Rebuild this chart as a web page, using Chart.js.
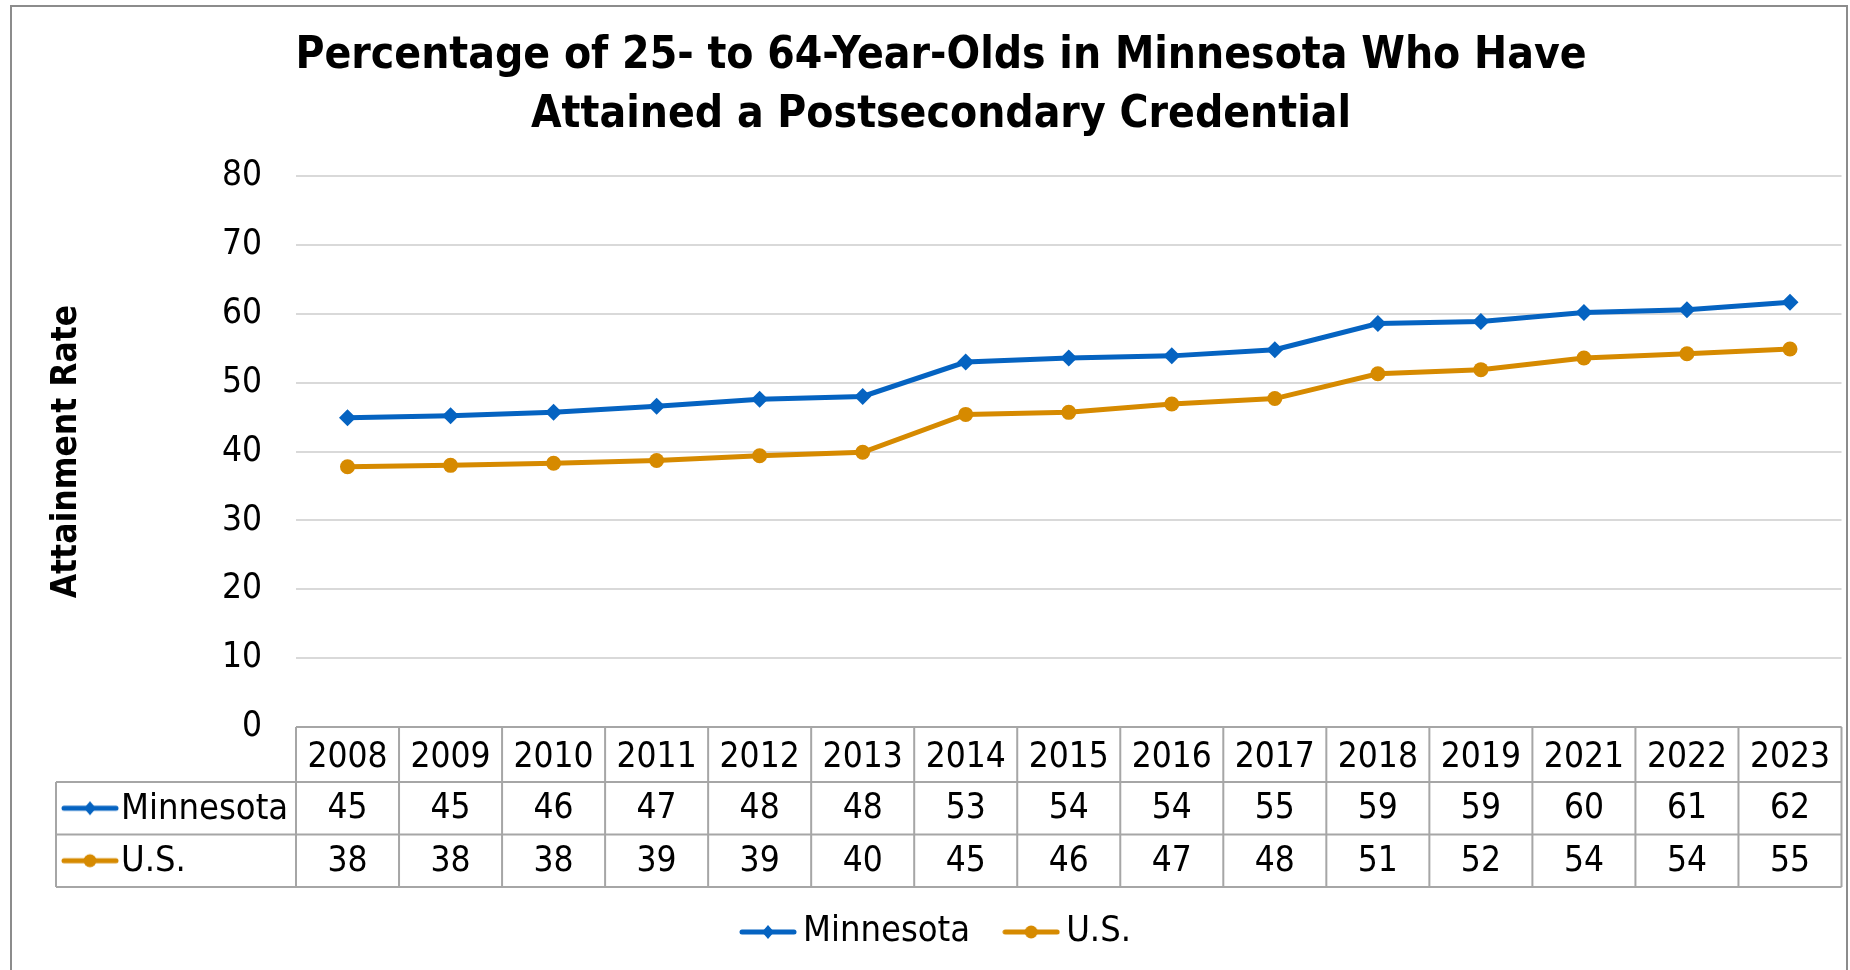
<!DOCTYPE html>
<html>
<head>
<meta charset="utf-8">
<script src="https://cdn.jsdelivr.net/npm/chart.js@4.4.1/dist/chart.umd.min.js"></script>
<style>
  html, body { margin: 0; padding: 0; background: #fff; }
  #wrap { width: 1850px; height: 970px; position: relative; }
</style>
</head>
<body>
<div id="wrap"><canvas id="chart"></canvas></div>
<script>
var years = ['2008', '2009', '2010', '2011', '2012', '2013', '2014', '2015', '2016', '2017', '2018', '2019', '2021', '2022', '2023'];
var mnValues = [44.9, 45.2, 45.7, 46.6, 47.6, 48.0, 53.0, 53.6, 53.9, 54.8, 58.6, 58.9, 60.2, 60.6, 61.7];
var usValues = [37.8, 38.0, 38.3, 38.7, 39.4, 39.9, 45.4, 45.7, 46.9, 47.7, 51.3, 51.9, 53.6, 54.2, 54.9];
var mnTable = ['45', '45', '46', '47', '48', '48', '53', '54', '54', '55', '59', '59', '60', '61', '62'];
var usTable = ['38', '38', '38', '39', '39', '40', '45', '46', '47', '48', '51', '52', '54', '54', '55'];
var seriesNames = ['Minnesota', 'U.S.'];
var seriesColors = ['#0563C1', '#D68A00'];
var yMin = 0, yMax = 80, yStep = 10;
var titleLines = ['Percentage of 25- to 64-Year-Olds in Minnesota Who Have', 'Attained a Postsecondary Credential'];
var yTitle = 'Attainment Rate';

var FONT = "'DejaVu Sans Condensed', 'DejaVu Sans', sans-serif";
Chart.defaults.font.family = FONT;
Chart.defaults.color = '#000';

// small line+marker key, as in the Excel legend
function makeKey(color, shape) {
    var c = document.createElement('canvas');
    c.width = 58; c.height = 20;
    var g = c.getContext('2d');
    g.strokeStyle = color;
    g.lineWidth = 5;
    g.lineCap = 'round';
    g.beginPath(); g.moveTo(3, 10); g.lineTo(55, 10); g.stroke();
    g.fillStyle = color;
    g.beginPath();
    if (shape === 'diamond') {
        g.moveTo(29, 3); g.lineTo(35, 10); g.lineTo(29, 17); g.lineTo(23, 10);
    } else {
        g.arc(29, 10, 6.5, 0, Math.PI * 2);
    }
    g.closePath(); g.fill();
    return c;
}
var keys = [makeKey(seriesColors[0], 'diamond'), makeKey(seriesColors[1], 'circle')];

var framePlugin = {
    id: 'frame',
    beforeDraw: function(chart) {
        var ctx = chart.ctx;
        ctx.save();
        ctx.strokeStyle = '#8c8c8c';
        ctx.lineWidth = 2;
        ctx.strokeRect(11, 6, 1836, 1000);
        ctx.restore();
    }
};

var tablePlugin = {
    id: 'dataTable',
    afterDraw: function(chart) {
        var ctx = chart.ctx;
        var x = chart.scales.x;
        var top = chart.chartArea.bottom;
        var headH = 55, rowH = 52.5;
        var left = 56;
        var colW = (x.right - x.left) / years.length;
        var rows = [mnTable, usTable];
        ctx.save();
        ctx.strokeStyle = '#a6a6a6';
        ctx.lineWidth = 2;
        ctx.beginPath();
        // header row
        ctx.moveTo(x.left, top); ctx.lineTo(x.right, top);
        ctx.moveTo(left, top + headH); ctx.lineTo(x.right, top + headH);
        ctx.moveTo(left, top + headH + rowH); ctx.lineTo(x.right, top + headH + rowH);
        ctx.moveTo(left, top + headH + 2 * rowH); ctx.lineTo(x.right, top + headH + 2 * rowH);
        for (var i = 0; i <= years.length; i++) {
            var cx = x.left + i * colW;
            ctx.moveTo(cx, top); ctx.lineTo(cx, top + headH + 2 * rowH);
        }
        ctx.moveTo(left, top + headH); ctx.lineTo(left, top + headH + 2 * rowH);
        ctx.stroke();

        ctx.fillStyle = '#000';
        ctx.textBaseline = 'middle';
        for (var r = 0; r < rows.length; r++) {
            var cy = top + headH + rowH * r + rowH / 2;
            ctx.drawImage(keys[r], 61, cy - 10);
            ctx.font = '36px ' + FONT;
            ctx.textAlign = 'left';
            ctx.fillText(seriesNames[r], 121, cy + 1);
            ctx.font = '35px ' + FONT;
            ctx.textAlign = 'center';
            for (var j = 0; j < years.length; j++) {
                ctx.fillText(rows[r][j], x.getPixelForValue(j), cy + 1);
            }
        }
        ctx.restore();
    }
};

new Chart(document.getElementById('chart'), {
    type: 'line',
    data: {
        labels: years,
        datasets: [
            {
                label: seriesNames[0],
                data: mnValues,
                borderColor: seriesColors[0],
                backgroundColor: seriesColors[0],
                borderWidth: 5,
                pointStyle: 'rectRot',
                pointRadius: 8.5,
                pointBorderWidth: 0,
                pointBackgroundColor: seriesColors[0],
                tension: 0
            },
            {
                label: seriesNames[1],
                data: usValues,
                borderColor: seriesColors[1],
                backgroundColor: seriesColors[1],
                borderWidth: 5,
                pointStyle: 'circle',
                pointRadius: 7.5,
                pointBorderWidth: 0,
                pointBackgroundColor: seriesColors[1],
                tension: 0
            }
        ]
    },
    options: {
        responsive: true,
        maintainAspectRatio: false,
        animation: false,
        events: [],
        layout: { padding: { left: 39, right: 7, top: 6, bottom: 10 } },
        plugins: {
            title: {
                display: true,
                text: titleLines,
                font: { size: 44, weight: 'bold', lineHeight: 1.32 },
                color: '#000',
                padding: { top: 22, bottom: 32 }
            },
            legend: {
                display: true,
                position: 'bottom',
                labels: {
                    usePointStyle: true,
                    pointStyleWidth: 34,
                    boxHeight: 20,
                    padding: 44,
                    font: { size: 36 },
                    color: '#000',
                    generateLabels: function(chart) {
                        return chart.data.datasets.map(function(ds, i) {
                            return {
                                text: ds.label,
                                pointStyle: keys[i],
                                fillStyle: ds.borderColor,
                                strokeStyle: ds.borderColor,
                                lineWidth: 0,
                                fontColor: '#000',
                                datasetIndex: i
                            };
                        });
                    }
                }
            },
            tooltip: { enabled: false }
        },
        scales: {
            x: {
                offset: true,
                grid: { display: false, drawTicks: false },
                border: { display: false },
                ticks: { font: { size: 35 }, color: '#000', padding: 10, maxRotation: 0, autoSkip: false },
                afterFit: function(scale) { scale.height = 143; }
            },
            y: {
                min: yMin,
                max: yMax,
                ticks: { stepSize: yStep, font: { size: 35 }, color: '#000', padding: 34 },
                grid: { color: '#d9d9d9', lineWidth: 2, drawTicks: false },
                border: { display: false },
                title: {
                    display: true,
                    text: yTitle,
                    font: { size: 35, weight: 'bold' },
                    color: '#000',
                    padding: { top: 7, bottom: 0 }
                },
                afterFit: function(scale) { scale.width = 257; }
            }
        }
    },
    plugins: [framePlugin, tablePlugin]
});
</script>
</body>
</html>
